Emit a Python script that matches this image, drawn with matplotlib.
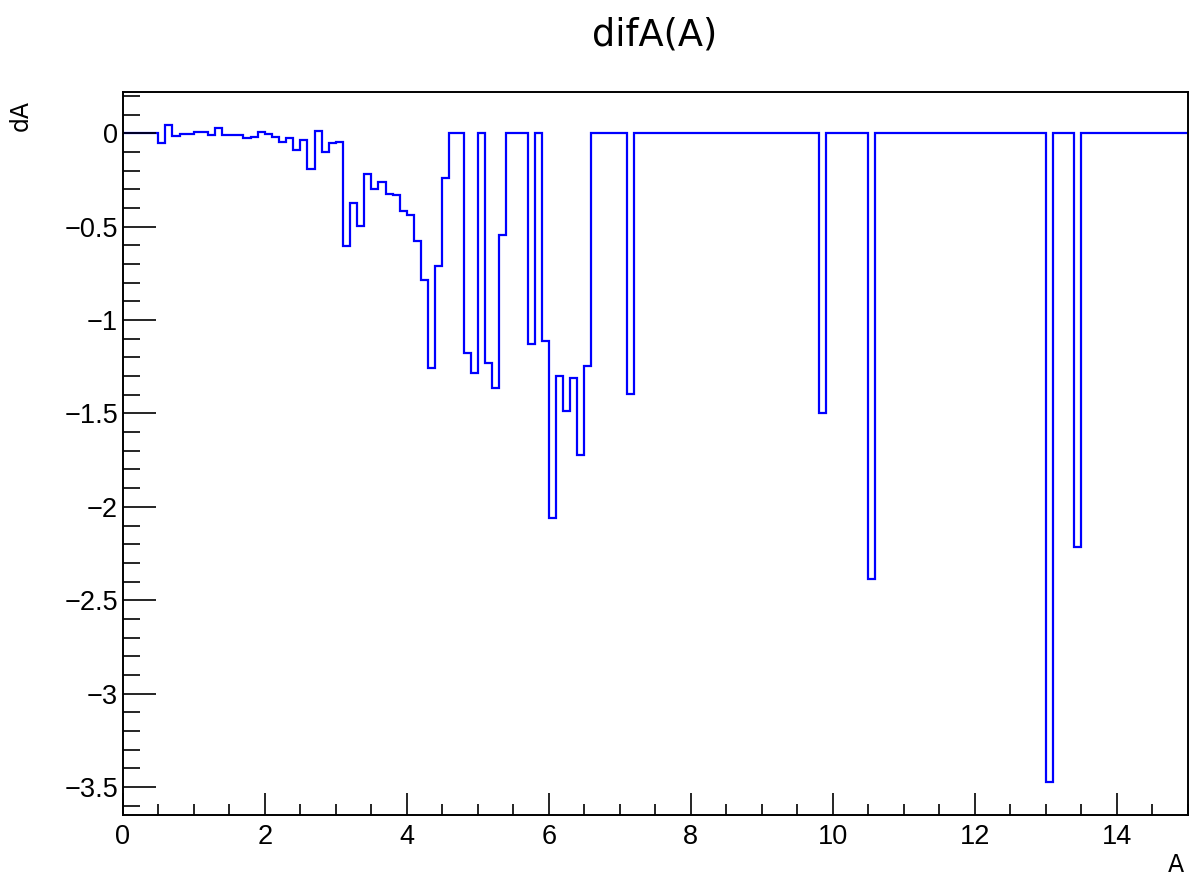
import numpy as np
import matplotlib
matplotlib.use('Agg')
import matplotlib.pyplot as plt
from matplotlib.ticker import MultipleLocator, FuncFormatter

# histogram difA(A): 150 bins of width 0.1 between 0 and 15
bin_lo, bin_hi, n_bins = 0.0, 15.0, 150
dA = [
    0, 0, 0, 0, 0, -0.05, 0.046, -0.014, -0.004, -0.004,                  # 0.0 - 1.0
    0.004, 0.009, -0.011, 0.03, -0.007, -0.007, -0.007, -0.027, -0.018, 0.007,  # 1.0 - 2.0
    -0.004, -0.021, -0.045, -0.027, -0.089, -0.039, -0.189, 0.0125, -0.098, -0.05,  # 2.0 - 3.0
    -0.045, -0.604, -0.371, -0.495, -0.221, -0.30, -0.259, -0.323, -0.332, -0.416,  # 3.0 - 4.0
    -0.4375, -0.577, -0.7875, -1.259, -0.709, -0.2375, 0, 0, -1.177, -1.284,      # 4.0 - 5.0
    0, -1.232, -1.366, -0.543, 0, 0, 0, -1.127, 0, -1.114,                  # 5.0 - 6.0
    -2.059, -1.30, -1.489, -1.309, -1.721, -1.245, 0, 0, 0, 0,              # 6.0 - 7.0
    0, -1.398, 0, 0, 0, 0, 0, 0, 0, 0,                                      # 7.0 - 8.0
    0, 0, 0, 0, 0, 0, 0, 0, 0, 0,                                           # 8.0 - 9.0
    0, 0, 0, 0, 0, 0, 0, 0, -1.5, 0,                                        # 9.0 - 10.0
    0, 0, 0, 0, 0, -2.388, 0, 0, 0, 0,                                      # 10.0 - 11.0
    0, 0, 0, 0, 0, 0, 0, 0, 0, 0,                                           # 11.0 - 12.0
    0, 0, 0, 0, 0, 0, 0, 0, 0, 0,                                           # 12.0 - 13.0
    -3.471, 0, 0, 0, -2.213, 0, 0, 0, 0, 0,                                 # 13.0 - 14.0
    0, 0, 0, 0, 0, 0, 0, 0, 0, 0,                                           # 14.0 - 15.0
]
y_lo, y_hi = -3.647, 0.222


def root_fmt(v, pos):
    s = '%g' % round(v, 6)
    if s == '-0':
        s = '0'
    return s.replace('-', '\u2212')


fig = plt.figure(figsize=(11.92, 8.82), dpi=100)
ax = fig.add_axes([0.1030, 0.0765, 0.8936, 0.8195])

edges = np.linspace(bin_lo, bin_hi, n_bins + 1)
ax.stairs(dA, edges, baseline=None, color='#0000ff', linewidth=1.6)

ax.set_xlim(bin_lo, bin_hi)
ax.set_ylim(y_lo, y_hi)

for sp in ax.spines.values():
    sp.set_linewidth(1.4)

ax.xaxis.set_major_locator(MultipleLocator(2))
ax.xaxis.set_minor_locator(MultipleLocator(0.5))
ax.yaxis.set_major_locator(MultipleLocator(0.5))
ax.yaxis.set_minor_locator(MultipleLocator(0.1))
ax.xaxis.set_major_formatter(FuncFormatter(root_fmt))
ax.yaxis.set_major_formatter(FuncFormatter(root_fmt))

ax.tick_params(axis='x', which='major', direction='in', length=16, width=1.2,
               pad=7, labelsize=19.5, top=False)
ax.tick_params(axis='x', which='minor', direction='in', length=8, width=1.2, top=False)
ax.tick_params(axis='y', which='major', direction='in', length=24, width=1.2,
               pad=3.5, labelsize=19.5, right=False)
ax.tick_params(axis='y', which='minor', direction='in', length=12, width=1.2, right=False)
for lab in ax.get_xticklabels() + ax.get_yticklabels():
    lab.set_family('Liberation Sans')

fig.text(655 / 1192, 1 - 35 / 882, 'difA(A)', ha='center', va='center',
         fontsize=26.5, family='DejaVu Sans')
fig.text(21 / 1192, 1 - 100 / 882, 'dA', ha='center', va='top', rotation=90,
         fontsize=17, family='DejaVu Sans')
fig.text(1176 / 1192, 1 - 865 / 882, 'A', ha='center', va='center',
         fontsize=17, family='DejaVu Sans')

fig.savefig('out.png', dpi=100)
